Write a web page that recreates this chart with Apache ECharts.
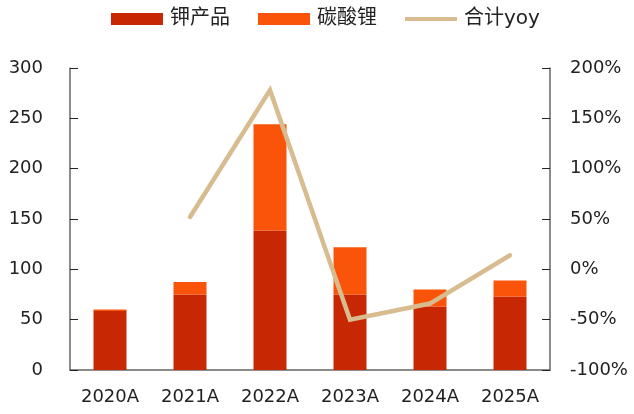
<!DOCTYPE html>
<html><head><meta charset="utf-8">
<script src="https://cdn.jsdelivr.net/npm/echarts@6/dist/echarts.min.js"></script>
<style>html,body{margin:0;padding:0;background:#fff}#c{width:634px;height:414px}</style>
</head><body><div id="c"></div>
<script>
var categories = ['2020A','2021A','2022A','2023A','2024A','2025A'];
var potash = [58.5, 75, 138.5, 75, 63, 73];
var lithium = [1.5, 12.5, 105.5, 47, 17, 16];
var yoy = [null, 52, 178, -50, -34, 14];
var leftTicks = [0, 300, 50];
var rightTicks = [-100, 200, 50];

var font = 'DejaVu Sans, Verdana, Noto Sans CJK SC, sans-serif';
var chart = echarts.init(document.getElementById('c'), null, {renderer:'canvas'});
chart.setOption({
  animation: false,
  textStyle: {fontFamily: font},
  legend: {
    top: 4, left: 106, itemGap: 28, itemWidth: 52, itemHeight: 12,
    textStyle: {fontSize: 20, color: '#222', fontFamily: font, padding: [0, 0, 0, 2]},
    data: [
      {name: '钾产品', icon: 'rect'},
      {name: '碳酸锂', icon: 'rect'},
      {name: '合计yoy', icon: 'path://M0,0 L54,0 L54,4 L0,4 Z', itemStyle: {color: '#D8BC8F'}}
    ]
  },
  grid: {left: 70, right: 84, top: 68, bottom: 44},
  xAxis: {
    type: 'category', data: categories,
    axisLine: {lineStyle: {color: '#666', width: 1.5}},
    axisTick: {inside: true, length: 7, alignWithLabel: false, lineStyle: {color: '#666', width: 1.5}},
    axisLabel: {fontSize: 18, color: '#222', margin: 18, fontFamily: font}
  },
  yAxis: [
    {type: 'value', min: leftTicks[0], max: leftTicks[1], interval: leftTicks[2],
     axisLine: {show: true, lineStyle: {color: '#666', width: 1.5}},
     axisTick: {show: true, inside: true, length: 8, lineStyle: {color: '#222'}},
     splitLine: {show: false},
     axisLabel: {fontSize: 18, color: '#222', margin: 27, fontFamily: font}},
    {type: 'value', min: rightTicks[0], max: rightTicks[1], interval: rightTicks[2],
     position: 'right',
     axisLine: {show: true, lineStyle: {color: '#666', width: 1.5}},
     axisTick: {show: true, inside: true, length: 8, lineStyle: {color: '#222'}},
     splitLine: {show: false},
     axisLabel: {fontSize: 18, color: '#222', margin: 20, formatter: '{value}%', fontFamily: font}}
  ],
  series: [
    {name: '钾产品', type: 'bar', stack: 't', data: potash, barWidth: 33,
     itemStyle: {color: '#C82703'}},
    {name: '碳酸锂', type: 'bar', stack: 't', data: lithium, barWidth: 33,
     itemStyle: {color: '#F9540A'}},
    {name: '合计yoy', type: 'line', yAxisIndex: 1, data: yoy, symbol: 'none',
     lineStyle: {color: '#D8BC8F', width: 4.5, cap: 'round', join: 'miter'},
     itemStyle: {color: '#D8BC8F'}}
  ]
});
</script></body></html>
